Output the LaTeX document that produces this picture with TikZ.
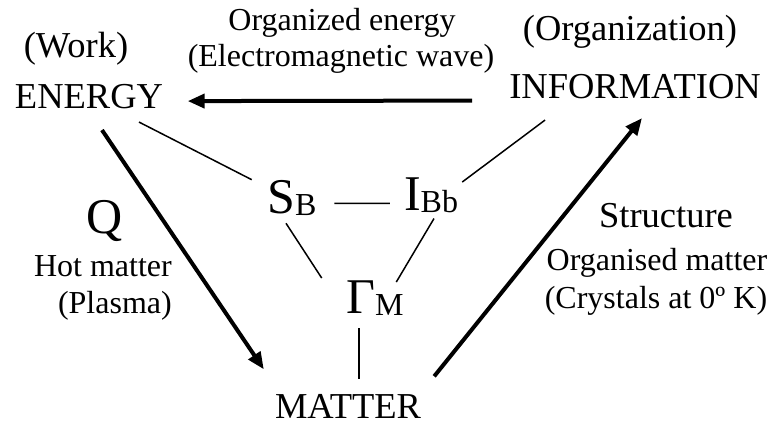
\documentclass[tikz,border=0pt]{standalone}
\usepackage{fontspec}
\setmainfont{Liberation Serif}
\usetikzlibrary{arrows.meta}

\newcommand{\bigtxt}{\fontsize{36.5}{40}\selectfont}
\newcommand{\smalltxt}{\fontsize{32}{36}\selectfont}
\newcommand{\symtxt}{\fontsize{50}{56}\selectfont}
\newcommand{\subtxt}[1]{\raisebox{-2pt}{\fontsize{32}{36}\selectfont #1}}

\begin{document}
\begin{tikzpicture}[x=1pt, y=-1pt,
    every node/.style={inner sep=0pt, anchor=base},
    link/.style={line width=1.5pt},
    flow/.style={line width=4pt, -{Triangle[length=17pt,width=14pt]}}]
  \useasboundingbox (0,0) rectangle (771,425);

  % Corners
  \node (work) at (76,58) {\bigtxt (Work)};
  \node (energy) at (89,109) {\bigtxt ENERGY};
  \node (orgz) at (630,41) {\bigtxt (Organization)};
  \node (info) at (635,99) {\bigtxt INFORMATION};
  \node (matter) at (348,418) {\bigtxt MATTER};

  % Arrow labels
  \node (orgen) at (342,31) {\smalltxt Organized energy};
  \node (emwave) at (341,67) {\smalltxt (Electromagnetic wave)};
  \node (q) at (105,233) {\symtxt Q};
  \node[anchor=base east] (hot) at (172,276) {\smalltxt Hot matter};
  \node[anchor=base east] (plasma) at (172,313) {\smalltxt (Plasma)};
  \node (struct) at (666,227) {\bigtxt Structure};
  \node (orgmat) at (657,270) {\smalltxt Organised matter};
  \node (crystals) at (656,308) {\smalltxt (Crystals at 0º K)};

  % Inner triangle
  \node (sb) at (292,213) {\symtxt S\subtxt{B}};
  \node (ibb) at (431,210) {\symtxt I\subtxt{Bb}};
  \node (gm) at (375,313) {\symtxt Γ\subtxt{M}};

  \draw[link] ([xshift=50pt,yshift=-12.5pt]energy.south) -- ([xshift=-15.5pt]sb.north west);
  \draw[link] ([xshift=36pt,yshift=-20.5pt]info.south west) -- ([xshift=4pt,yshift=-5pt]ibb.north east);
  \draw[link] ([xshift=17.5pt,yshift=-6pt]sb.east) -- ([xshift=-14pt,yshift=-8.5pt]ibb.west);
  \draw[link] ([xshift=-6pt,yshift=-8pt]sb.south) -- ([xshift=-24.4pt,yshift=2pt]gm.north west);
  \draw[link] ([xshift=3pt,yshift=-6pt]ibb.south) -- ([xshift=-7.6pt,yshift=-2pt]gm.north east);
  \draw[link] ([xshift=-16pt,yshift=-13pt]gm.south) -- ([xshift=11pt,yshift=14.4pt]matter.north);

  % Outer arrows
  \draw[flow] ([xshift=13pt,yshift=-20.5pt]energy.south) -- ([xshift=-11pt,yshift=24.4pt]matter.north west);
  \draw[flow] ([xshift=13pt,yshift=17.4pt]matter.north east) -- ([xshift=7pt,yshift=-18.5pt]info.south);
  \draw[flow] ([xshift=-37pt,yshift=-13.5pt]info.west) -- ([xshift=24.5pt,yshift=-4pt]energy.east);
\end{tikzpicture}
\end{document}
